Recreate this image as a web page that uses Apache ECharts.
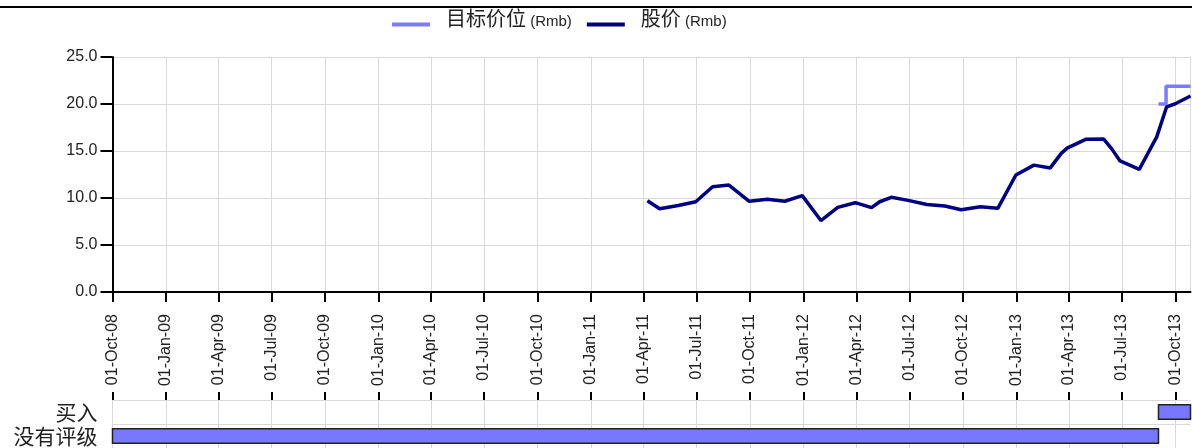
<!DOCTYPE html>
<html><head><meta charset="utf-8">
<script src="https://cdn.jsdelivr.net/npm/echarts@6/dist/echarts.min.js"></script>
<style>html,body{margin:0;padding:0;background:#fff}#c{width:1192px;height:448px}</style>
</head><body><div id="c"></div>
<script>
// ---- data ----
const tickDates = ['2008-10-01','2009-01-01','2009-04-01','2009-07-01','2009-10-01','2010-01-01','2010-04-01','2010-07-01','2010-10-01','2011-01-01','2011-04-01','2011-07-01','2011-10-01','2012-01-01','2012-04-01','2012-07-01','2012-10-01','2013-01-01','2013-04-01','2013-07-01','2013-10-01'];
const axisStart = '2008-10-01';
const axisEnd = '2013-10-27';
const priceDates = ['2011-04-08','2011-04-29','2011-05-31','2011-06-30','2011-07-29','2011-08-26','2011-09-30','2011-10-31','2011-11-30','2011-12-30','2012-01-31','2012-02-29','2012-03-30','2012-04-27','2012-05-11','2012-05-31','2012-06-29','2012-07-31','2012-08-31','2012-09-28','2012-10-31','2012-11-30','2012-12-31','2013-01-31','2013-02-28','2013-03-19','2013-03-29','2013-04-30','2013-05-31','2013-06-14','2013-06-28','2013-07-31','2013-08-30','2013-09-16','2013-09-30','2013-10-27'];
const priceValues = [9.71,8.85,9.2,9.6,11.2,11.38,9.65,9.86,9.65,10.25,7.6,9.0,9.5,8.97,9.6,10.07,9.75,9.3,9.15,8.75,9.08,8.9,12.45,13.5,13.2,14.75,15.3,16.24,16.27,15.2,13.94,13.05,16.5,19.7,20.0,20.85];
const targetDates = ['2013-09-02','2013-09-15','2013-09-15','2013-10-27'];
const targetValues = [20.0,20.0,21.9,21.9];
const yTicks = [0,5,10,15,20,25];
const ratingCategories = ['没有评级','买入'];
const ratingStarts = ['2008-10-01','2013-09-02'];
const ratingEnds = ['2013-09-02','2013-10-27'];
const ratingRows = [0,1];
const seriesNames = ['目标价位 (Rmb)','股价 (Rmb)'];

// ---- helpers ----
const ts = s => { const p = s.split('-').map(Number); return new Date(p[0], p[1]-1, p[2]).getTime(); };
const MON = ['Jan','Feb','Mar','Apr','May','Jun','Jul','Aug','Sep','Oct','Nov','Dec'];
const fmtDate = v => { const d = new Date(v); return '01-' + MON[d.getMonth()] + '-' + String(d.getFullYear()).slice(2); };
const ticks = tickDates.map(ts);
const NARROW = "'Liberation Sans Narrow','Arial Narrow','Liberation Sans',sans-serif";
const CJK = "'Noto Sans CJK SC','Noto Sans',sans-serif";
const GRID = '#d9d9d9';
const TXT = '#222';
// legend icon: a 38x4 bar sitting at the bottom of a 38x16 box
const LEGEND_ICON = 'path://M0,12H38V16H0Z M0,0H0.01V0.01H0Z';

const chart = echarts.init(document.getElementById('c'), null, {renderer:'canvas'});
chart.setOption({
  animation: false,
  backgroundColor: '#fff',
  graphic: [{type:'line', shape:{x1:0,y1:7,x2:1192,y2:7}, style:{stroke:'#000', lineWidth:2}, z:10}],
  legend: {
    top: 3, left: 387, itemWidth: 38, itemHeight: 16, itemGap: 15, icon: LEGEND_ICON,
    data: [{name: seriesNames[0], itemStyle:{color:'#7b7bff'}}, {name: seriesNames[1], itemStyle:{color:'#000080'}}],
    formatter: n => { const i = n.indexOf(' ('); return '{c|' + n.slice(0,i) + '}{l| ' + n.slice(i+1) + '}'; },
    textStyle: {rich: {
      c: {fontFamily: CJK, fontSize: 20, lineHeight: 24, padding:[0,0,0,11], color: TXT},
      l: {fontFamily: NARROW, fontSize: 15, lineHeight: 18, padding:[6,0,0,0], color: TXT}
    }}
  },
  grid: [
    {left: 112.5, right: 1.5, top: 57, height: 235},
    {left: 112.5, right: 1.5, top: 400, height: 50}
  ],
  xAxis: [
    {type:'value', gridIndex:0, min: ts(axisStart), max: ts(axisEnd), scale:true, z:1,
     axisLine:{onZero:false, lineStyle:{color:'#000', width:2}},
     axisTick:{show:true, customValues: ticks, length:10, lineStyle:{color:'#000', width:2}},
     axisLabel:{customValues: ticks, rotate:90, margin:22, formatter: fmtDate, fontFamily: NARROW, fontSize:16, color: TXT},
     splitLine:{show:true, lineStyle:{color:GRID, width:1}}},
    {type:'value', gridIndex:1, position:'top', min: ts(axisStart), max: ts(axisEnd), scale:true, z:1,
     axisLine:{onZero:false, lineStyle:{color:'#000', width:2}},
     axisTick:{show:true, customValues: ticks, length:8, lineStyle:{color:'#000', width:2}},
     axisLabel:{show:false, customValues: ticks},
     splitLine:{show:true, lineStyle:{color:GRID, width:1}}}
  ],
  yAxis: [
    {type:'value', gridIndex:0, min: yTicks[0], max: yTicks[yTicks.length-1], interval: 5, z:1,
     axisLine:{show:true, lineStyle:{color:'#000', width:2}},
     axisTick:{show:true, length:12, lineStyle:{color:'#000', width:2}},
     axisLabel:{formatter: v => v.toFixed(1), margin:15, fontFamily: NARROW, fontSize:16, color: TXT},
     splitLine:{show:true, lineStyle:{color:GRID, width:1}}},
    {type:'value', gridIndex:0, position:'right', min:0, max:25, interval:5, z:1,
     axisLine:{show:true, lineStyle:{color:GRID, width:1}}, axisTick:{show:false}, axisLabel:{show:false}, splitLine:{show:false}},
    {type:'category', gridIndex:1, data: ratingCategories, z:0,
     axisLine:{show:false}, axisTick:{show:false},
     axisLabel:{interval:0, margin:15, fontFamily: CJK, fontSize:21, color: TXT},
     splitLine:{show:true, interval:0, lineStyle:{color:GRID, width:1}}}
  ],
  series: [
    {name: seriesNames[0], type:'line', xAxisIndex:0, yAxisIndex:0, showSymbol:false, symbol:'none',
     lineStyle:{color:'#7b7bff', width:3.5}, itemStyle:{color:'#7b7bff'},
     data: targetDates.map((d,i) => [ts(d), targetValues[i]]), z:2},
    {name: seriesNames[1], type:'line', xAxisIndex:0, yAxisIndex:0, showSymbol:false, symbol:'none',
     lineStyle:{color:'#000080', width:3.5}, itemStyle:{color:'#000080'},
     data: priceDates.map((d,i) => [ts(d), priceValues[i]]), z:3},
    {type:'custom', xAxisIndex:1, yAxisIndex:2, z:3,
     renderItem: (params, api) => {
       const row = api.value(2);
       const s = api.coord([api.value(0), row]);
       const e = api.coord([api.value(1), row]);
       const h = api.size([0, 1])[1] * 0.6;
       return {type:'rect', shape:{x:s[0], y:s[1]-h/2, width:e[0]-s[0], height:h},
               style:{fill:'#7777ff', stroke:'#222', lineWidth:1.5}};
     },
     encode:{x:[0,1], y:2},
     data: ratingStarts.map((s,i) => [ts(s), ts(ratingEnds[i]), ratingRows[i]])}
  ]
});
</script></body></html>
